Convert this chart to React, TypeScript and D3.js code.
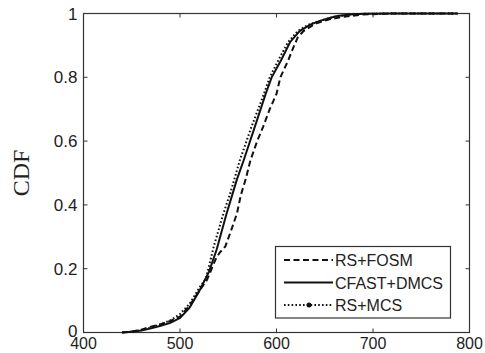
import React, { useEffect, useRef } from "react";
import * as d3 from "d3";

// CFAST+DMCS (solid)
const dmcsX = [440, 450, 460, 470, 480, 490, 500, 510, 520, 530, 538, 548, 555, 559, 566, 577, 589, 595, 605, 614, 624, 635, 645, 655, 663, 676, 690, 720, 788];
const dmcsY = [0, 0.002, 0.006, 0.013, 0.021, 0.03, 0.046, 0.078, 0.13, 0.19, 0.26, 0.37, 0.44, 0.48, 0.54, 0.64, 0.75, 0.8, 0.855, 0.91, 0.945, 0.965, 0.977, 0.986, 0.992, 0.997, 0.999, 1, 1];

// RS+FOSM (dashed)
const fosmX = [440, 450, 460, 470, 480, 490, 500, 510, 520, 528, 537, 541, 547, 553, 559, 563, 568, 573, 580, 586, 593, 600, 604, 612, 617, 622, 628, 640, 655, 670, 690, 720, 788];
const fosmY = [0, 0.003, 0.009, 0.018, 0.026, 0.036, 0.05, 0.085, 0.13, 0.165, 0.23, 0.25, 0.27, 0.32, 0.373, 0.43, 0.48, 0.54, 0.6, 0.644, 0.7, 0.748, 0.8, 0.852, 0.89, 0.925, 0.945, 0.968, 0.982, 0.99, 0.997, 1, 1];

// RS+MCS (dotted)
const mcsX = [440, 450, 460, 470, 480, 490, 500, 510, 520, 527, 535, 545, 552, 556, 562, 574, 587, 593, 603, 612, 622, 633, 645, 660, 676, 690, 720, 788];
const mcsY = [0, 0.003, 0.008, 0.016, 0.026, 0.038, 0.058, 0.09, 0.14, 0.17, 0.27, 0.373, 0.436, 0.477, 0.54, 0.644, 0.748, 0.8, 0.86, 0.91, 0.945, 0.965, 0.977, 0.99, 0.997, 0.999, 1, 1];

const xTicks = [400, 500, 600, 700, 800];
const yTicks = [0, 0.2, 0.4, 0.6, 0.8, 1];
const legendLabels = ["RS+FOSM", "CFAST+DMCS", "RS+MCS"];

const App: React.FC = () => {
  const svgRef = useRef<SVGSVGElement | null>(null);

  useEffect(() => {
    if (svgRef.current) drawChart();
  }, []);

  const drawChart = () => {
    const width = 485;
    const height = 353;
    const left = 83.5;
    const right = 469.5;
    const top = 13.5;
    const bottom = 332.5;

    const svg = d3.select(svgRef.current).attr("width", width).attr("height", height);
    svg.selectAll("*").remove();

    const x = d3.scaleLinear().domain([400, 800]).range([left, right]);
    const y = d3.scaleLinear().domain([0, 1]).range([bottom, top]);

    const frame = "#333";
    const font = "'Liberation Sans', Arial, sans-serif";

    // box
    svg.append("rect")
      .attr("x", left).attr("y", top)
      .attr("width", right - left).attr("height", bottom - top)
      .attr("fill", "white").attr("stroke", frame).attr("stroke-width", 1.2);

    // ticks, inward on all four sides
    xTicks.forEach((t) => {
      svg.append("line").attr("x1", x(t)).attr("x2", x(t)).attr("y1", bottom).attr("y2", bottom - 4).attr("stroke", frame);
      svg.append("line").attr("x1", x(t)).attr("x2", x(t)).attr("y1", top).attr("y2", top + 4).attr("stroke", frame);
      svg.append("text")
        .attr("x", x(t)).attr("y", bottom + 16.5)
        .attr("text-anchor", "middle")
        .style("font-family", font).style("font-size", "16px").style("fill", "#222")
        .text(t);
    });
    yTicks.forEach((t) => {
      svg.append("line").attr("x1", left).attr("x2", left + 4).attr("y1", y(t)).attr("y2", y(t)).attr("stroke", frame);
      svg.append("line").attr("x1", right).attr("x2", right - 4).attr("y1", y(t)).attr("y2", y(t)).attr("stroke", frame);
      svg.append("text")
        .attr("x", left - 6).attr("y", y(t) + (t === 0 ? 4 : 6))
        .attr("text-anchor", "end")
        .style("font-family", font).style("font-size", "17px").style("fill", "#222")
        .text(String(t));
    });

    // y label
    svg.append("text")
      .attr("transform", `translate(29,173) rotate(-90)`)
      .attr("text-anchor", "middle")
      .style("font-family", "'Liberation Serif', 'Times New Roman', serif")
      .style("font-size", "24px").style("fill", "#222")
      .text("CDF");

    const line = d3.line<[number, number]>().x((d) => x(d[0])).y((d) => y(d[1]));
    const zip = (xs: number[], ys: number[]) => xs.map((v, i) => [v, ys[i]] as [number, number]);

    const series = [
      { data: zip(fosmX, fosmY), dash: "6,3.5" },
      { data: zip(dmcsX, dmcsY), dash: "none" },
      { data: zip(mcsX, mcsY), dash: "1.6,2.2" },
    ];

    series.forEach((s) => {
      svg.append("path")
        .datum(s.data)
        .attr("fill", "none")
        .attr("stroke", "#111")
        .attr("stroke-width", 2)
        .attr("stroke-dasharray", s.dash)
        .attr("d", line);
    });

    // legend
    const lg = svg.append("g");
    lg.append("rect")
      .attr("x", 275.5).attr("y", 246.5).attr("width", 175).attr("height", 71.5)
      .attr("fill", "white").attr("stroke", frame).attr("stroke-width", 1.2);
    legendLabels.forEach((label, i) => {
      const ly = 260 + i * 22.5;
      lg.append("line")
        .attr("x1", 284).attr("x2", 333).attr("y1", ly).attr("y2", ly)
        .attr("stroke", "#111").attr("stroke-width", 2)
        .attr("stroke-dasharray", series[i].dash);
      if (i === 2) {
        lg.append("circle").attr("cx", 309).attr("cy", ly).attr("r", 2.5).attr("fill", "#111");
      }
      lg.append("text")
        .attr("x", 335).attr("y", ly + 6)
        .style("font-family", font).style("font-size", "16px").style("fill", "#222")
        .text(label);
    });
  };

  return <svg ref={svgRef} style={{ position: "absolute", left: 0, top: 0 }}></svg>;
};

export default App;
